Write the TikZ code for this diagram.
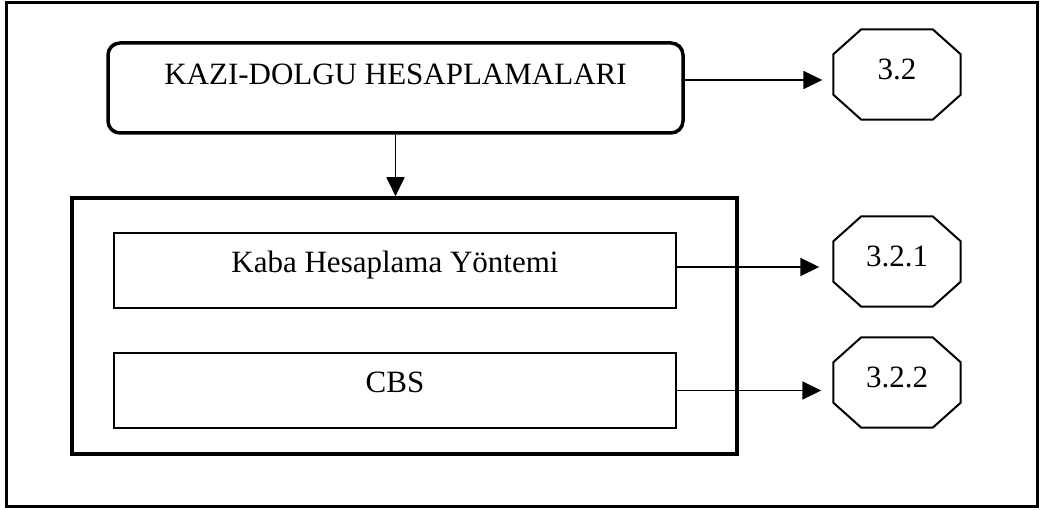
\documentclass[tikz,border=0pt]{standalone}
\usepackage{fontspec}
\setmainfont{Liberation Serif}
\usetikzlibrary{arrows.meta}

\begin{document}
\begin{tikzpicture}[
        x=1pt, y=-1pt,
        >={Triangle[length=19pt,width=18pt]},
        font=\fontsize{31}{36}\selectfont,
        mainbox/.style={draw, line width=3.5pt, rounded corners=12pt,
            minimum width=575pt, minimum height=90pt,
            text height=22pt, text depth=28pt},
        groupbox/.style={draw, line width=3.5pt,
            minimum width=665pt, minimum height=256pt},
        methodbox/.style={draw, line width=2.5pt, inner sep=0pt,
            minimum width=562pt, minimum height=75pt,
            text height=22pt, text depth=18pt},
        secbox/.style={inner sep=0pt, minimum width=127pt, minimum height=90pt,
            text height=21pt, text depth=10pt,
            append after command={\pgfextra{\draw[line width=2pt, line join=round]
                ([xshift=28pt]\tikzlastnode.north west) -- ([xshift=-28pt]\tikzlastnode.north east)
                -- ([yshift=-25pt]\tikzlastnode.north east) -- ([yshift=25pt]\tikzlastnode.south east)
                -- ([xshift=-28pt]\tikzlastnode.south east) -- ([xshift=28pt]\tikzlastnode.south west)
                -- ([yshift=25pt]\tikzlastnode.south west) -- ([yshift=-25pt]\tikzlastnode.north west)
                -- cycle;}}},
        link/.style={->, line width=1.8pt},
        ]
        \useasboundingbox (0,0) rectangle (1044,510);

        % Frame
        \draw[line width=3pt] (6,3) rectangle (1037,506);

        % Boxes
        \node[mainbox] (kazi) at (395.5,88) {KAZI-DOLGU HESAPLAMALARI};
        \node[groupbox] (grp) at (404.5,326) {};
        \node[methodbox] (kaba) at (395,270.5) {Kaba Hesaplama Yöntemi};
        \node[methodbox] (cbs) at (395,390.5) {CBS};

        % Section numbers
        \node[secbox] (s32) at (897,74.5) {3.2};
        \node[secbox] (s321) at (897,261.5) {3.2.1};
        \node[secbox] (s322) at (897,382.5) {3.2.2};

        % Arrows
        \draw[link] (kazi.south) -- (kazi.south |- grp.north);
        \draw[link, shorten >=11pt] ([yshift=8pt]kazi.east) -- ([yshift=8pt]kazi.east -| s32.west);
        \draw[link, shorten >=14pt] ([yshift=3.5pt]kaba.east) -- ([yshift=3.5pt]kaba.east -| s321.west);
        \draw[link, shorten >=12pt] (cbs.east) -- (cbs.east -| s322.west);

    \end{tikzpicture}
\end{document}
